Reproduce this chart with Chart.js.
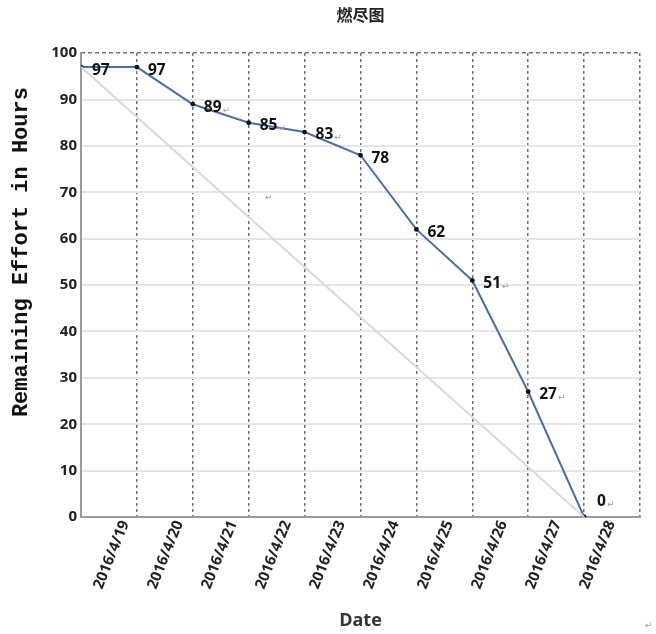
<!DOCTYPE html>
<html><head><meta charset="utf-8">
<script src="https://cdn.jsdelivr.net/npm/chart.js@4.4.1/dist/chart.umd.min.js"></script>
<style>html,body{margin:0;padding:0;background:#fff}#wrap{width:656px;height:634px;position:relative}</style>
</head><body><div id="wrap"><canvas id="c"></canvas></div>
<script>
const chartTitle = '燃尽图';
const yTitle = 'Remaining Effort in Hours';
const xTitle = 'Date';
const dates = ['2016/4/19','2016/4/20','2016/4/21','2016/4/22','2016/4/23','2016/4/24','2016/4/25','2016/4/26','2016/4/27','2016/4/28'];
const remaining = [97, 97, 89, 85, 83, 78, 62, 51, 27, 0];
const ideal = [97, null, null, null, null, null, null, null, null, 0];
const labelHasReturnMark = [false, false, true, true, true, false, false, true, true, true];
const yMin = 0, yMax = 100, yStep = 10;

const actualPts = remaining.map((v, i) => ({x: i, y: v}));
const idealPts = ideal.map((v, i) => ({x: i, y: v})).filter(p => p.y !== null);

const labelPlugin = {
  id: 'valueLabels',
  afterDatasetsDraw(chart) {
    const meta = chart.getDatasetMeta(1);
    const ctx = chart.ctx;
    ctx.save();
    ctx.textAlign = 'left';
    ctx.textBaseline = 'middle';
    meta.data.forEach((pt, i) => {
      const last = i === remaining.length - 1;
      const tx = pt.x + (last ? 13 : 11);
      const ty = pt.y + (last ? -15 : 3);
      ctx.font = 'bold 15.5px "Open Sans"';
      ctx.fillStyle = '#111';
      const s = String(remaining[i]);
      ctx.fillText(s, tx, ty);
      if (labelHasReturnMark[i]) {
        const w = ctx.measureText(s).width;
        ctx.font = '9px "DejaVu Sans"';
        ctx.fillStyle = '#999';
        ctx.fillText('↵', tx + w + 1, ty + 3);
      }
    });
    ctx.font = '9px "DejaVu Sans"';
    ctx.fillStyle = '#999';
    ctx.fillText('↵', 265, 198);
    ctx.fillText('↵', 645, 626);
    ctx.restore();
  }
};

new Chart(document.getElementById('c'), {
  type: 'line',
  data: {
    datasets: [
      {
        label: 'Ideal',
        data: idealPts,
        borderColor: '#dadada',
        borderWidth: 2,
        pointRadius: 0,
        tension: 0,
        xAxisID: 'x',
        yAxisID: 'y'
      },
      {
        label: 'Remaining',
        data: actualPts,
        borderColor: '#4d6da6',
        borderWidth: 2,
        pointRadius: 2.4,
        pointBackgroundColor: '#111',
        pointBorderColor: '#111',
        pointBorderWidth: 0,
        tension: 0,
        xAxisID: 'x',
        yAxisID: 'y'
      }
    ]
  },
  options: {
    responsive: true,
    maintainAspectRatio: false,
    animation: false,
    events: [],
    layout: {padding: {left: 0, right: 16, top: 0, bottom: 0}},
    plugins: {
      legend: {display: false},
      tooltip: {enabled: false},
      title: {
        display: true,
        text: chartTitle,
        fullSize: false,
        color: '#222',
        font: {family: '"Noto Sans CJK SC"', size: 16, weight: 'bold'},
        padding: {top: 5, bottom: 29}
      }
    },
    scales: {
      x: {
        type: 'linear',
        position: 'bottom',
        min: 0,
        max: dates.length,
        grid: {display: false},
        border: {display: true, color: '#9a9a9a', width: 2},
        afterBuildTicks: s => { s.ticks = dates.map((d, i) => ({value: 0.79 + i * 0.966})); },
        ticks: {
          autoSkip: false,
          minRotation: 68,
          maxRotation: 68,
          padding: -7,
          color: '#222',
          font: {family: '"Open Sans"', size: 15, weight: 'bold'},
          callback: (v, i) => dates[i]
        },
        title: {
          display: true,
          text: xTitle,
          color: '#333',
          font: {family: '"Open Sans"', size: 18, weight: 'bold'},
          padding: {top: 0, bottom: 2}
        },
        afterFit: s => { s.height = 117; }
      },
      xg: {
        type: 'linear',
        position: 'top',
        min: 0,
        max: dates.length,
        ticks: {display: false, stepSize: 1},
        grid: {
          drawTicks: false,
          lineWidth: 1.5,
          color: ctx => (ctx.tick && ctx.tick.value === 0) ? 'rgba(0,0,0,0)' : '#707070'
        },
        border: {display: false, dash: [3, 3]},
        afterFit: s => { s.height = 0; }
      },
      y: {
        type: 'linear',
        position: 'left',
        min: yMin,
        max: yMax,
        ticks: {
          stepSize: yStep,
          padding: 4,
          color: '#222',
          font: {family: '"Open Sans"', size: 15, weight: 'bold'}
        },
        grid: {
          drawTicks: false,
          lineWidth: 2,
          color: ctx => (ctx.tick && (ctx.tick.value === yMin || ctx.tick.value === yMax)) ? 'rgba(0,0,0,0)' : '#e6e6e6'
        },
        border: {display: true, color: '#9a9a9a', width: 2},
        title: {
          display: true,
          text: '     ' + yTitle,
          color: '#111',
          font: {family: '"Liberation Mono"', size: 22, weight: 'bold'},
          padding: {top: 8, bottom: 0}
        },
        afterFit: s => { s.width = 81; }
      },
      yg: {
        type: 'linear',
        position: 'right',
        min: yMin,
        max: yMax,
        afterBuildTicks: s => { s.ticks = [{value: yMax}]; },
        ticks: {display: false},
        grid: {drawTicks: false, lineWidth: 1.5, color: '#707070'},
        border: {display: false, dash: [4, 3]},
        afterFit: s => { s.width = 0; }
      }
    }
  },
  plugins: [labelPlugin]
});
</script>
</body></html>
